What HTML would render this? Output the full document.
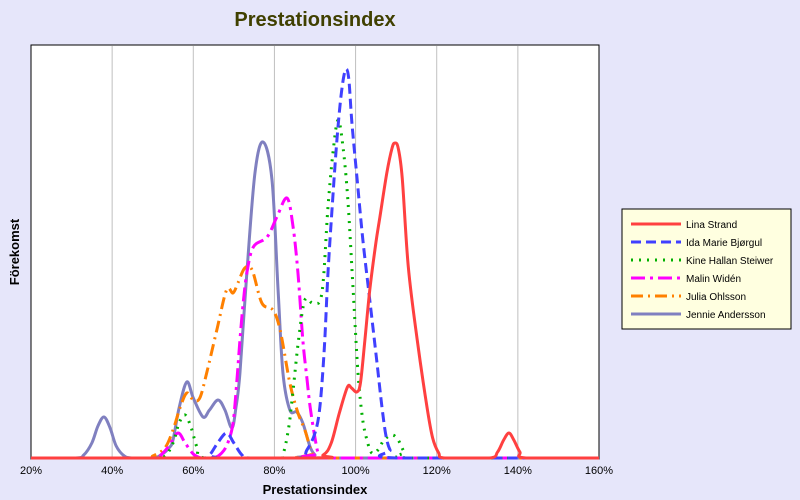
<!DOCTYPE html>
<html><head><meta charset="utf-8"><style>
body{margin:0;background:#e6e6fa;}
svg{display:block;font-family:"Liberation Sans","DejaVu Sans",sans-serif;}
</style></head><body>
<svg id="chart" width="800" height="500">
<rect width="800" height="500" fill="#e6e6fa"/>
<text x="315" y="26" text-anchor="middle" font-size="20" font-weight="bold" fill="#404000">Prestationsindex</text>
<rect x="31" y="45" width="568" height="414" fill="#fff" stroke="#000" stroke-width="1"/>
<g id="grid"></g><g id="xticks"></g><g id="series"></g>
<text x="315" y="494" text-anchor="middle" font-size="13" font-weight="bold">Prestationsindex</text>
<text transform="translate(19,252) rotate(-90)" text-anchor="middle" font-size="13" font-weight="bold">Förekomst</text>
<g id="legend">
<rect x="622" y="209" width="169" height="120" fill="#ffffe0" stroke="#000" stroke-width="1"/>
</g>
</svg>
<script>
const xTicks=[20,40,60,80,100,120,140,160];
const names=["Lina Strand","Ida Marie Bjørgul","Kine Hallan Steiwer","Malin Widén","Julia Ohlsson","Jennie Andersson"];
const lina=[[20,0],[88,0],[92,3],[94,15],[96,45],[98,71],[99,70],[100.3,66],[101.2,75],[102.3,118],[103.5,168],[105,215],[106,241],[107.7,285],[109,310],[109.7,315],[110.5,310],[111.5,280],[113,191],[115.2,118],[117.6,51],[119,20],[120.5,5],[122,0],[133,0],[135,6],[136.5,18],[137.8,25],[139,18],[140.5,6],[142,0],[160,0]];
const ida=[[20,0],[62,0],[64,3],[66,15],[68.2,25],[70,15],[72,3],[74,0],[86,0],[88,8],[90,25],[91.2,51],[92.3,110],[93.2,185],[94.3,255],[95.4,318],[96.5,365],[97.5,388],[98.3,380],[99.1,335],[100.4,278],[101.8,218],[103.5,158],[105.2,98],[106.5,51],[107.5,22],[108.5,8],[110,0],[160,0]];
const kine=[[20,0],[50,0],[53,2],[55,15],[56.5,35],[58,43],[59.5,30],[61,10],[63,0],[80,0],[82,3],[83.5,30],[84.6,68],[86,120],[87.5,158],[89.5,155],[91.7,165],[93.2,251],[94.5,308],[95.7,338],[96.9,311],[98.1,258],[99.4,168],[100.6,85],[101.7,40],[102.8,18],[104,5],[105.5,8],[107,18],[109,23],[110.5,18],[112,6],[113.5,0],[160,0]];
const malin=[[20,0],[50,0],[52,3],[54,12],[56.2,25],[58,15],[60,4],[62,0],[65,0],[67,5],[68.5,15],[69.8,35],[70.7,75],[71.5,118],[72.3,155],[73.2,185],[74.8,211],[78.2,221],[80.6,241],[83.1,260],[84.6,231],[85.8,185],[87,118],[88,80],[88.8,51],[90,20],[90.8,5],[92,0],[160,0]];
const julia=[[20,0],[48,0],[50,2],[53,10],[55,28],[56.8,51],[58.4,65],[60,58],[61.6,60],[63.3,85],[65.8,128],[68.2,168],[69.8,165],[71,175],[72.7,190],[74.5,188],[76.9,155],[79.6,148],[81.4,128],[83.8,75],[85.8,45],[87.5,28],[89.3,5],[91,0],[160,0]];
const jennie=[[20,0],[31,0],[33,3],[35,15],[36.5,32],[38,41],[39.5,30],[41,12],[43,2],[45,0],[50,0],[52,3],[54,10],[55,18],[56.5,50],[58.4,76],[60,60],[62.4,41],[64,48],[66.1,58],[67.8,48],[69.5,30],[70.5,50],[71.5,85],[73.2,185],[75.2,285],[77.2,316],[79.4,278],[80.9,168],[82.1,85],[83.8,48],[85.5,46],[87,35],[88.8,11],[90,3],[91,0],[160,0]];

const NS="http://www.w3.org/2000/svg";
const X0=31,X1=599,Y0=458,Y1=45,VMAX=413;
function xs(p){return X0+(p-20)/140*(X1-X0);}
function ys(v){return Y0-(v/VMAX)*(Y0-Y1);}
function mk(t,a,parent){const e=document.createElementNS(NS,t);for(const k in a)e.setAttribute(k,a[k]);parent.appendChild(e);return e;}
const grid=document.getElementById('grid'),xt=document.getElementById('xticks');
xTicks.forEach(t=>{
 if(t>20&&t<160){const g=mk('line',{x1:xs(t),x2:xs(t),y1:46,y2:458,stroke:'#c0c0c0','stroke-width':1},grid);
 
 }
 const l=mk('text',{x:xs(t),y:474,'text-anchor':'middle','font-size':11},xt);
 l.textContent=t+'%';
 
 
});
const styles=[
 {c:'#ff4040',d:'',w:3},
 {c:'#4040ff',d:'10,5',w:3},
 {c:'#00b000',d:'2,6',w:3},
 {c:'#ff00ff',d:'14,5,3,5',w:3},
 {c:'#ff8000',d:'12,5,2,5',w:3},
 {c:'#8080c0',d:'',w:3}];
const data=[lina,ida,kine,malin,julia,jennie];
function pathD(pts){
 const P=pts.map(p=>[xs(p[0]),ys(p[1])]);
 let d='M'+P[0][0]+','+P[0][1];
 for(let i=0;i<P.length-1;i++){
  const p0=P[i-1]||P[i],p1=P[i],p2=P[i+1],p3=P[i+2]||p2;
  let c1y=p1[1]+(p2[1]-p0[1])/6,c2y=p2[1]-(p3[1]-p1[1])/6;
  c1y=Math.min(c1y,Y0);c2y=Math.min(c2y,Y0);
  d+=' C'+(p1[0]+(p2[0]-p0[0])/6)+','+c1y+' '+(p2[0]-(p3[0]-p1[0])/6)+','+c2y+' '+p2[0]+','+p2[1];
 }
 return d;
}
const sg=document.getElementById('series');
const order=[5,4,3,2,1,0];
order.forEach(i=>{
 const s=styles[i];
 const p=mk('path',{d:pathD(data[i]),fill:'none',stroke:s.c,'stroke-width':s.w,'stroke-dasharray':s.d,'stroke-linejoin':'round'},sg);
 
 
});
const lg=document.getElementById('legend');
names.forEach((n,i)=>{
 const y=224+i*18,s=styles[i];
 const g=mk('g',{},lg);
 
 
 mk('line',{x1:631,x2:681,y1:y,y2:y,stroke:s.c,'stroke-width':3,'stroke-dasharray':s.d},g);
 const t=mk('text',{x:686,y:y+4,'font-size':10},g);
 t.textContent=n;
});
</script>
</body></html>
